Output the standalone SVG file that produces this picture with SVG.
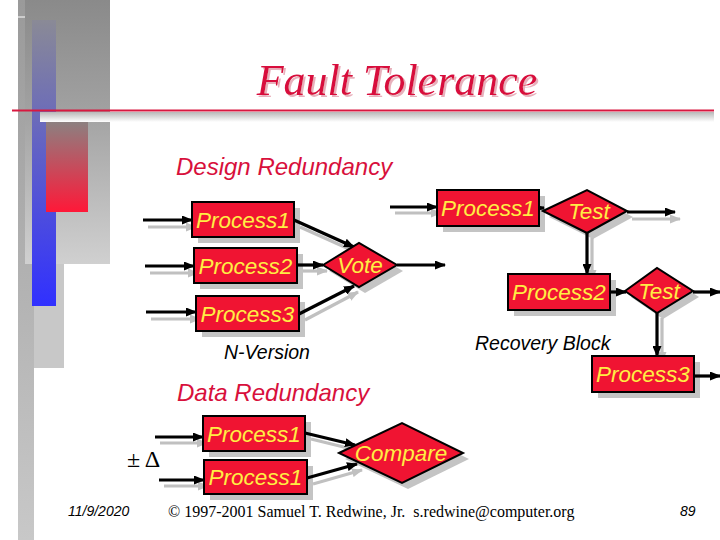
<svg xmlns="http://www.w3.org/2000/svg" width="720" height="540" viewBox="0 0 720 540">
<defs>
<linearGradient id="gStrip" x1="0" y1="0" x2="0" y2="1"><stop offset="0" stop-color="#9a9a9a"/><stop offset="1" stop-color="#c8c8c8"/></linearGradient>
<linearGradient id="gBig" x1="0" y1="0" x2="0" y2="1"><stop offset="0" stop-color="#8a8a8a"/><stop offset="0.4" stop-color="#a0a0a0"/><stop offset="1" stop-color="#d0d0d0"/></linearGradient>
<linearGradient id="gBlue" x1="0" y1="0" x2="0" y2="1"><stop offset="0" stop-color="#8a8a96"/><stop offset="1" stop-color="#3030ff"/></linearGradient>
<linearGradient id="gRed" x1="0" y1="0" x2="0" y2="1"><stop offset="0" stop-color="#8c8080"/><stop offset="1" stop-color="#ff1838"/></linearGradient>
<linearGradient id="gBand" x1="0" y1="0" x2="0" y2="1"><stop offset="0" stop-color="#b8b8b8"/><stop offset="1" stop-color="#ffffff"/></linearGradient>
<filter id="tsh" x="-5%" y="-20%" width="110%" height="140%"><feDropShadow dx="2" dy="2" stdDeviation="0.3" flood-color="#e8b0bc" flood-opacity="1"/></filter>
<marker id="ah" markerUnits="userSpaceOnUse" markerWidth="11" markerHeight="9" refX="10" refY="4.5" orient="auto"><path d="M0,0 L11,4.5 L0,9 z" fill="#000"/></marker>
<marker id="ahs" markerUnits="userSpaceOnUse" markerWidth="11" markerHeight="9" refX="10" refY="4.5" orient="auto"><path d="M0,0 L11,4.5 L0,9 z" fill="#c0c0c0"/></marker>
<style>
.box{fill:#f01432;stroke:#000;stroke-width:2}
.sh{fill:#c4c4c4}
.lbl{font-family:"Liberation Sans",Arial,sans-serif;font-style:italic;font-size:22.5px;fill:#ffee44;text-anchor:middle}
.ln{stroke:#000;stroke-width:3.2;fill:none;marker-end:url(#ah)}
.lns{stroke:#c0c0c0;stroke-width:3.2;fill:none;marker-end:url(#ahs)}
.hd{font-family:"Liberation Sans",Arial,sans-serif;font-style:italic;font-size:24px;fill:#d8103c}
.cap{font-family:"Liberation Sans",Arial,sans-serif;font-style:italic;font-size:19.5px;fill:#000}
</style>
</defs>
<rect width="720" height="540" fill="#fff"/>
<g id="background">
<rect x="18" y="0" width="16" height="540" fill="url(#gStrip)"/>
<rect x="25" y="0" width="85" height="264" fill="url(#gBig)"/>
<rect x="34" y="264" width="30" height="104" fill="#c8c8c8"/>
<rect x="32" y="20" width="24" height="286" fill="url(#gBlue)"/>
<rect x="46" y="122" width="42" height="90" fill="url(#gRed)"/>
<line x1="18" y1="17" x2="25" y2="17" stroke="#fff" stroke-width="1"/>
<rect x="40" y="112" width="674" height="10" fill="url(#gBand)"/>
<line x1="12" y1="110.5" x2="714" y2="110.5" stroke="#d81840" stroke-width="2"/>
</g>
<g id="title">
<text x="397" y="95" font-family="'Liberation Serif','Times New Roman',serif" font-style="italic" font-size="44" fill="#d8103c" text-anchor="middle" filter="url(#tsh)">Fault Tolerance</text>
</g>
<g id="headings">
<text class="hd" x="176" y="175">Design Redundancy</text>
<text class="hd" x="177" y="401">Data Redundancy</text>
<text class="cap" x="224" y="359">N-Version</text>
<text class="cap" x="475" y="350">Recovery Block</text>
</g>
<g id="shadows">
<rect class="sh" x="198" y="208" width="102" height="35"/>
<rect class="sh" x="200" y="254" width="103" height="35"/>
<rect class="sh" x="202" y="302" width="103" height="35"/>
<polygon class="sh" points="329,271 365,249 403,271 365,293"/>
<rect class="sh" x="443" y="196" width="102" height="36"/>
<polygon class="sh" points="549,217 593,196 633,217 593,239"/>
<rect class="sh" x="514" y="280" width="102" height="36"/>
<polygon class="sh" points="631,297 663,274 699,297 663,319"/>
<rect class="sh" x="598" y="362" width="102" height="36"/>
<rect class="sh" x="209" y="422" width="102" height="35"/>
<rect class="sh" x="210" y="466" width="103" height="34"/>
<polygon class="sh" points="345,459 408,429 469,459 408,489"/>
</g>
<g id="connectors">
<line class="lns" x1="148" y1="227" x2="196" y2="227"/>
<line class="lns" x1="150" y1="273" x2="198" y2="273"/>
<line class="lns" x1="151" y1="319" x2="200" y2="319"/>
<line class="lns" x1="300" y1="227" x2="358" y2="253"/>
<line class="lns" x1="303" y1="271" x2="327" y2="271"/>
<line class="lns" x1="305" y1="320" x2="358" y2="292"/>
<line class="lns" x1="395" y1="213" x2="441" y2="213"/>
<line class="lns" x1="632" y1="219" x2="680" y2="219"/>
<line class="lns" x1="592" y1="238" x2="592" y2="280"/>
<line class="lns" x1="662" y1="318" x2="662" y2="362"/>
<line class="lns" x1="160" y1="443" x2="207" y2="443"/>
<line class="lns" x1="164" y1="486" x2="208" y2="486"/>
<line class="lns" x1="311" y1="439" x2="360" y2="451"/>
<line class="lns" x1="313" y1="484" x2="362" y2="470"/>
<line class="ln" x1="143" y1="220" x2="192" y2="220"/>
<line class="ln" x1="145" y1="266" x2="194" y2="266"/>
<line class="ln" x1="146" y1="312" x2="196" y2="312"/>
<line class="ln" x1="294" y1="220" x2="354" y2="247"/>
<line class="ln" x1="297" y1="265" x2="323" y2="265"/>
<line class="ln" x1="299" y1="314" x2="354" y2="286"/>
<line class="ln" x1="397" y1="265" x2="445" y2="265"/>
<line class="ln" x1="390" y1="207" x2="437" y2="207"/>
<line class="ln" x1="536" y1="208" x2="544" y2="208"/>
<line class="ln" x1="627" y1="212" x2="675" y2="212"/>
<line class="ln" x1="587" y1="233" x2="587" y2="274"/>
<line class="ln" x1="610" y1="292" x2="626" y2="292"/>
<line class="ln" x1="693" y1="292" x2="720" y2="292"/>
<line class="ln" x1="657" y1="313" x2="657" y2="356"/>
<line class="ln" x1="694" y1="376" x2="720" y2="376"/>
<line class="ln" x1="155" y1="437" x2="203" y2="437"/>
<line class="ln" x1="159" y1="480" x2="204" y2="480"/>
<line class="ln" x1="305" y1="433" x2="355" y2="445"/>
<line class="ln" x1="307" y1="478" x2="357" y2="464"/>
</g>
<g id="dr-p1"><rect class="box" x="192" y="202" width="102" height="35"/><text class="lbl" x="243" y="228">Process1</text></g>
<g id="dr-p2"><rect class="box" x="194" y="248" width="103" height="35"/><text class="lbl" x="245.5" y="274">Process2</text></g>
<g id="dr-p3"><rect class="box" x="196" y="296" width="103" height="35"/><text class="lbl" x="247.5" y="322">Process3</text></g>
<g id="vote"><polygon class="box" points="323,265 359,243 397,265 359,287"/><text class="lbl" x="360" y="273">Vote</text></g>
<g id="rb-p1"><rect class="box" x="437" y="190" width="102" height="36"/><text class="lbl" x="488" y="216">Process1</text></g>
<g id="rb-test1"><polygon class="box" points="543,211 587,190 627,211 587,233"/><text class="lbl" x="589" y="219">Test</text></g>
<g id="rb-p2"><rect class="box" x="508" y="274" width="102" height="36"/><text class="lbl" x="559" y="300">Process2</text></g>
<g id="rb-test2"><polygon class="box" points="625,291 657,268 693,291 657,313"/><text class="lbl" x="659" y="299">Test</text></g>
<g id="rb-p3"><rect class="box" x="592" y="356" width="102" height="36"/><text class="lbl" x="643" y="382">Process3</text></g>
<g id="da-p1a"><rect class="box" x="203" y="416" width="102" height="35"/><text class="lbl" x="254" y="442">Process1</text></g>
<g id="da-p1b"><rect class="box" x="204" y="460" width="103" height="34"/><text class="lbl" x="255.5" y="485">Process1</text></g>
<g id="compare"><polygon class="box" points="339,453 402,423 463,453 402,483"/><text class="lbl" x="401" y="461">Compare</text></g>
<g id="footer">
<text x="127" y="467" font-family="'Liberation Serif','Times New Roman',serif" font-size="24" fill="#000">± Δ</text>
<text x="68" y="516" font-family="'Liberation Sans',Arial,sans-serif" font-style="italic" font-size="14" fill="#000">11/9/2020</text>
<text x="168" y="517" font-family="'Liberation Serif','Times New Roman',serif" font-size="16" fill="#000">© 1997-2001 Samuel T. Redwine, Jr. &#160;s.redwine@computer.org</text>
<text x="680" y="516" font-family="'Liberation Sans',Arial,sans-serif" font-style="italic" font-size="14" fill="#000">89</text>
</g>
</svg>
